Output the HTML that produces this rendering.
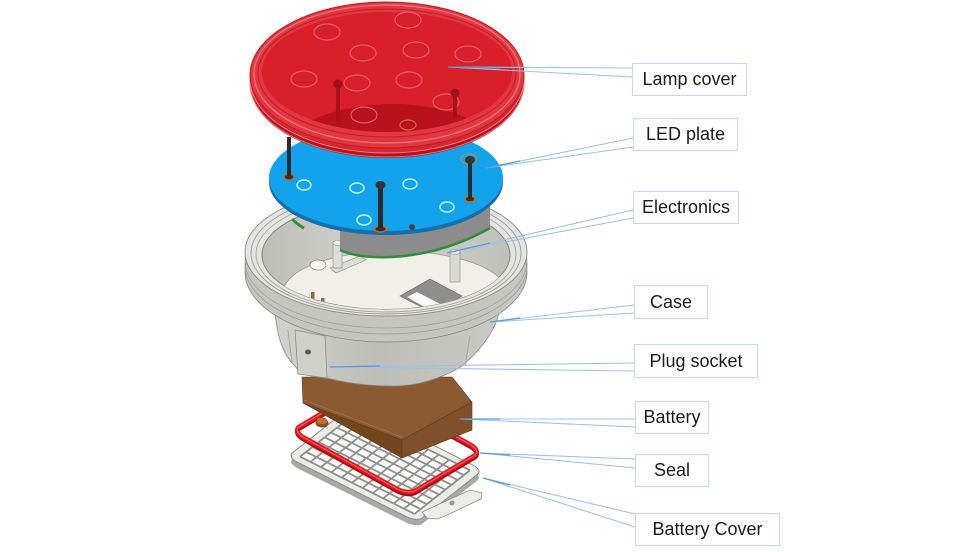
<!DOCTYPE html>
<html><head><meta charset="utf-8">
<style>
html,body{margin:0;padding:0;background:#fff;}
body{width:980px;height:552px;position:relative;overflow:hidden;font-family:"Liberation Sans",Arial,sans-serif;}
svg{position:absolute;left:0;top:0;}
.lb{position:absolute;box-sizing:border-box;border:1px solid #c3d7ee;background:#fff;font-size:18px;color:#1b1b1b;display:flex;align-items:center;justify-content:center;white-space:nowrap;}
</style></head><body>
<svg width="980" height="552" viewBox="0 0 980 552">
<defs>
  <clipPath id="ocl"><ellipse cx="386" cy="255" rx="124" ry="54"/></clipPath>
  <clipPath id="rfc"><ellipse cx="387" cy="72" rx="125" ry="60"/></clipPath>
  <linearGradient id="bodyG" x1="0" y1="0" x2="1" y2="0">
    <stop offset="0" stop-color="#d2d2ce"/><stop offset="0.45" stop-color="#bdbdb8"/><stop offset="1" stop-color="#cacac5"/>
  </linearGradient>
  <linearGradient id="wallG" x1="0" y1="0" x2="1" y2="0">
    <stop offset="0" stop-color="#bdbdb8"/><stop offset="0.5" stop-color="#d6d6d1"/><stop offset="1" stop-color="#bfbfba"/>
  </linearGradient>
</defs>

<!-- Battery cover -->
<g transform="matrix(1.30 0.65 0.66 -0.52 287 463)">
  <rect x="0" y="0" width="100" height="100" rx="8" fill="#a9a9a5"/>
</g>
<g transform="matrix(1.30 0.65 0.66 -0.52 287 457)">
  <rect x="0" y="0" width="100" height="100" rx="8" fill="#ebebe8" stroke="#888" stroke-width="1" vector-effect="non-scaling-stroke"/>
  <rect x="6" y="8" width="88" height="84" fill="#fbfbfb"/>
  <path vector-effect="non-scaling-stroke" stroke="#8f8f8c" stroke-width="1.8" fill="none"
   d="M6 8V92M14 8V92M22 8V92M30 8V92M38 8V92M46 8V92M54 8V92M62 8V92M70 8V92M78 8V92M86 8V92M94 8V92
      M6 8H94M6 17.3H94M6 26.7H94M6 36H94M6 45.3H94M6 54.7H94M6 64H94M6 73.3H94M6 82.7H94M6 92H94"/>
</g>
<polygon points="422,512 470,490 482,493 481,499 445,516 437,519 427,518" fill="#ececea" stroke="#8a8a87" stroke-width="0.8"/>
<circle cx="452" cy="503" r="2.5" fill="#999"/>

<!-- Seal -->
<g transform="matrix(1.16 0.64 0.74 -0.44 292 433)">
  <rect x="0" y="0" width="100" height="100" rx="10" fill="none" stroke="#a80d14" stroke-width="4.5" vector-effect="non-scaling-stroke"/>
</g>
<g transform="matrix(1.16 0.64 0.74 -0.44 292 431)">
  <rect x="0" y="0" width="100" height="100" rx="10" fill="none" stroke="#e3151e" stroke-width="4.5" vector-effect="non-scaling-stroke"/>
  <rect x="0" y="0" width="100" height="100" rx="10" fill="none" stroke="#ff6d6d" stroke-width="1" vector-effect="non-scaling-stroke"/>
</g>
<ellipse cx="322" cy="423" rx="6.5" ry="4.5" fill="#8a4c1c"/>
<ellipse cx="322" cy="421" rx="5.5" ry="3.5" fill="#b8722f"/>

<!-- Battery -->
<polygon points="302,377 452,377 472,402 402,440 303,403" fill="#8b5a32" stroke="#5a3a1e" stroke-width="0.6"/>
<polygon points="303,403 402,440 402,458" fill="#74461f" stroke="#5a3a1e" stroke-width="0.6"/>
<polygon points="402,440 472,402 472,430 402,458" fill="#80502b" stroke="#5a3a1e" stroke-width="0.6"/>
<line x1="304" y1="400" x2="402" y2="437" stroke="#a87448" stroke-width="0.8"/>

<!-- Case body -->
<path d="M272,300 L276,320 C278,340 285,356 293,364 L300,372 C312,377 322,378 327,378 C350,384 370,386 393,386 C415,386 428,381 437,378 C448,374 456,370 462,366 C478,352 490,338 497,320 L502,300 Z" fill="url(#bodyG)" stroke="#8a8a86" stroke-width="0.8"/>
<path d="M288,330 L292,362 M470,336 L465,366" stroke="#a5a5a0" stroke-width="1"/>
<polygon points="295,330 325,336 327,378 298,374" fill="#d0d0cb" stroke="#8c8c88" stroke-width="0.8"/>
<ellipse cx="308" cy="352" rx="3" ry="2.5" fill="#555"/>

<!-- Case rim -->
<ellipse cx="386" cy="272" rx="141" ry="70" fill="#c6c6c1" stroke="#858581" stroke-width="0.8"/>
<ellipse cx="386" cy="266" rx="141" ry="68" fill="none" stroke="#9a9a96" stroke-width="0.8"/>
<ellipse cx="386" cy="261" rx="141" ry="67" fill="none" stroke="#a2a29e" stroke-width="0.8"/>
<ellipse cx="386" cy="252" rx="141" ry="64" fill="#e4e4e0" stroke="#8a8a86" stroke-width="0.9"/>
<ellipse cx="386" cy="253" rx="135" ry="61" fill="none" stroke="#9a9a96" stroke-width="0.9"/>
<ellipse cx="386" cy="254" rx="130" ry="58" fill="none" stroke="#a5a5a0" stroke-width="0.9"/>
<ellipse cx="386" cy="255" rx="124" ry="54" fill="url(#wallG)" stroke="#7e7e7a" stroke-width="0.9"/>
<g clip-path="url(#ocl)">
  <ellipse cx="395" cy="293" rx="112" ry="42" fill="#f0efe8" stroke="#9a9a96" stroke-width="0.8"/>
  <ellipse cx="318" cy="265" rx="8" ry="5" fill="#f6f6f2" stroke="#8a8a86" stroke-width="0.7"/>
  <polygon points="330,268 360,256 366,260 336,273" fill="#dcdcd6" stroke="#8a8a86" stroke-width="0.6"/>
  <polygon points="400,296 430,279 462,296 433,313" fill="#8e8e8a" stroke="#666" stroke-width="0.6"/>
  <polygon points="407,297 417,292 442,305 430,310" fill="#fbfbfb"/>
  <rect x="333" y="243" width="9" height="25" fill="#dcdcd8" stroke="#8a8a86" stroke-width="0.6"/>
  <ellipse cx="337.5" cy="243" rx="4.5" ry="2.5" fill="#eeeeea" stroke="#8a8a86" stroke-width="0.6"/>
  <rect x="450" y="252" width="10" height="30" fill="#d8d8d4" stroke="#8a8a86" stroke-width="0.6"/>
  <ellipse cx="455" cy="252" rx="5" ry="2.5" fill="#eeeeea" stroke="#8a8a86" stroke-width="0.6"/>
  <rect x="311" y="292" width="3.5" height="14" fill="#9a6a3a"/>
  <rect x="321" y="298" width="3.5" height="13" fill="#9a6a3a"/>
  <rect x="333" y="304" width="3.5" height="9" fill="#9a6a3a"/>
</g>

<!-- Electronics -->
<path d="M292,219 C296,223 300,226 304,228" stroke="#2d8f3c" stroke-width="3" fill="none"/>
<path d="M340,205 L340,250 C365,262 430,262 490,228 L490,200 Z" fill="#8c8c8c"/>
<path d="M340,250 C365,262 430,262 490,228" stroke="#2d8f3c" stroke-width="2.5" fill="none"/>

<!-- LED plate -->
<ellipse cx="386" cy="182" rx="117" ry="53" fill="#1470ad"/>
<ellipse cx="386" cy="178" rx="117" ry="53" fill="#13a2ec"/>
<g fill="none" stroke="#b8f5e0" stroke-width="1.5">
  <ellipse cx="304" cy="185" rx="7" ry="5"/>
  <ellipse cx="357" cy="188" rx="7" ry="5"/>
  <ellipse cx="410" cy="184" rx="7" ry="5"/>
  <ellipse cx="447" cy="207" rx="7" ry="5"/>
  <ellipse cx="364" cy="220" rx="7" ry="5"/>
</g>
<circle cx="412" cy="227" r="3" fill="#444"/>

<!-- Pins -->
<ellipse cx="289" cy="177" rx="5" ry="3" fill="#333" stroke="#c8651e" stroke-width="1.5"/>
<rect x="287" y="137" width="4" height="40" fill="#2b2b2b"/>
<ellipse cx="380.5" cy="229" rx="6" ry="3" fill="#333" stroke="#d06a20" stroke-width="1.5"/>
<rect x="378" y="184" width="5" height="45" fill="#2b2b2b"/>
<ellipse cx="380.5" cy="185" rx="5" ry="4" fill="#333"/>
<ellipse cx="470" cy="199" rx="5" ry="3" fill="#333" stroke="#d06a20" stroke-width="1.5"/>
<ellipse cx="469" cy="159" rx="8" ry="5" fill="none" stroke="#d0863a" stroke-width="1"/>
<rect x="468" y="160" width="4" height="39" fill="#2b2b2b"/>
<ellipse cx="470" cy="160" rx="5" ry="4" fill="#333"/>

<!-- Lamp cover -->
<ellipse cx="387" cy="84" rx="137" ry="74" fill="#b5141d"/>
<ellipse cx="387" cy="83" rx="137" ry="74" fill="none" stroke="#e8707a" stroke-width="1"/>
<ellipse cx="387" cy="79" rx="137" ry="74" fill="#d42832"/>
<ellipse cx="387" cy="79" rx="137" ry="74" fill="none" stroke="#ee8088" stroke-width="1"/>
<ellipse cx="387" cy="75" rx="137" ry="73" fill="#e23740" stroke="#c01a24" stroke-width="1"/>
<ellipse cx="387" cy="74" rx="133" ry="69" fill="none" stroke="#f07a82" stroke-width="1.2"/>
<ellipse cx="387" cy="73" rx="129" ry="64" fill="none" stroke="#c41c26" stroke-width="1"/>
<ellipse cx="387" cy="72" rx="125" ry="60" fill="#d91f29"/>
<g clip-path="url(#rfc)">
  <ellipse cx="392" cy="162" rx="115" ry="58" fill="#b8121c"/>
</g>
<g fill="none" stroke="#e4606a" stroke-width="1.2">
  <ellipse cx="327" cy="32" rx="13" ry="8"/>
  <ellipse cx="408" cy="20" rx="13" ry="8"/>
  <ellipse cx="363" cy="53" rx="13" ry="8"/>
  <ellipse cx="416" cy="50" rx="13" ry="8"/>
  <ellipse cx="468" cy="54" rx="13" ry="8"/>
  <ellipse cx="304" cy="79" rx="13" ry="8"/>
  <ellipse cx="357" cy="83" rx="13" ry="8"/>
  <ellipse cx="409" cy="80" rx="13" ry="8"/>
  <ellipse cx="446" cy="102" rx="13" ry="8"/>
  <ellipse cx="364" cy="115" rx="13" ry="8"/>
  <ellipse cx="408" cy="125" rx="8" ry="5" stroke="#d07040"/>
</g>
<rect x="336" y="84" width="4" height="38" fill="#a8101a"/>
<circle cx="338" cy="84" r="4.5" fill="#a0101a"/>
<rect x="453" y="93" width="4" height="25" fill="#a8101a"/>
<circle cx="455" cy="93" r="4.5" fill="#a0101a"/>

<!-- Leader lines -->
<g stroke="#9dc1e8" stroke-width="1.1" fill="none">
  <path d="M448,67 L632,68 M448,67 L632,77"/>
  <path d="M486,168 L633,138 M486,168 L633,147"/>
  <path d="M447,253 L633,210 M447,253 L633,218"/>
  <path d="M490,322 L634,305 M490,322 L634,313"/>
  <path d="M330,367 L634,363 M330,367 L634,371"/>
  <path d="M460,419 L635,419 M460,419 L635,427"/>
  <path d="M480,453 L635,459 M480,453 L635,468"/>
  <path d="M483,478 L635,514 M483,478 L635,527"/>
</g>
<g stroke="#5b9bd5" stroke-width="1.2" fill="none">
  <path d="M448,67 L500,68"/>
  <path d="M486,168 L520,161"/>
  <path d="M447,253 L490,243"/>
  <path d="M490,322 L520,318"/>
  <path d="M330,367 L380,366"/>
  <path d="M460,419 L500,419"/>
  <path d="M480,453 L510,455"/>
  <path d="M483,478 L510,485"/>
</g>
</svg>

<div class="lb" style="left:632px;top:63px;width:115px;height:33px">Lamp cover</div>
<div class="lb" style="left:633px;top:118px;width:105px;height:33px">LED plate</div>
<div class="lb" style="left:633px;top:191px;width:106px;height:33px">Electronics</div>
<div class="lb" style="left:634px;top:285px;width:74px;height:34px">Case</div>
<div class="lb" style="left:634px;top:344px;width:124px;height:34px">Plug socket</div>
<div class="lb" style="left:635px;top:401px;width:74px;height:33px">Battery</div>
<div class="lb" style="left:635px;top:454px;width:74px;height:33px">Seal</div>
<div class="lb" style="left:635px;top:513px;width:145px;height:33px">Battery Cover</div>
</body></html>
